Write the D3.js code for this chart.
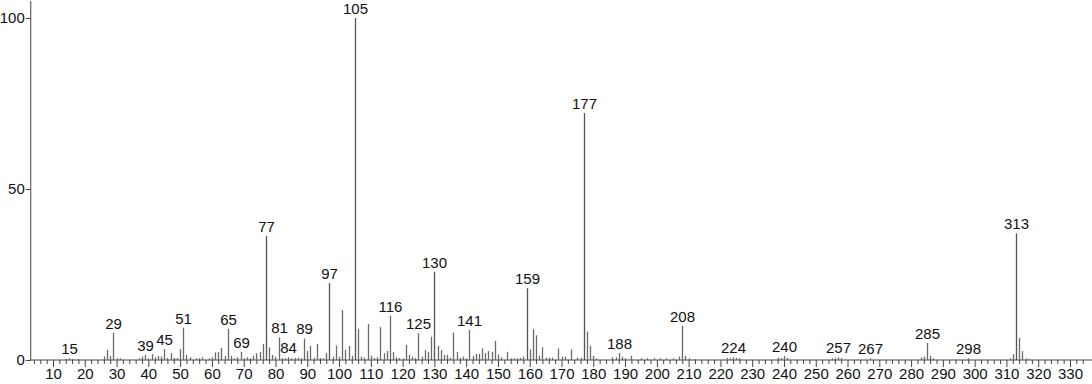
<!DOCTYPE html>
<html><head><meta charset="utf-8">
<script src="https://cdn.jsdelivr.net/npm/d3@7"></script>
<style>body{margin:0;background:#fff}svg{display:block}text{font-family:"Liberation Sans",Arial,sans-serif}</style>
</head><body><svg id="c" width="1092" height="384"></svg>
<script>
const mz = [14,15,16,18,26,27,28,29,30,31,37,38,39,40,41,42,43,44,45,46,47,48,49,50,51,52,53,55,56,57,59,60,61,62,63,64,65,66,67,68,69,70,71,72,73,74,75,76,77,78,79,80,81,82,83,84,85,86,87,88,89,90,91,92,93,94,95,96,97,98,99,100,101,102,103,104,105,106,107,108,109,110,111,112,113,114,115,116,117,118,119,120,121,122,123,124,125,126,127,128,129,130,131,132,133,134,135,136,137,138,139,140,141,142,143,144,145,146,147,148,149,150,151,153,154,155,156,157,158,159,160,161,162,163,164,165,166,167,169,170,171,173,175,176,177,178,179,180,181,186,187,188,189,190,192,195,197,199,201,203,205,207,208,209,210,212,222,223,224,225,226,238,239,240,241,255,256,257,258,267,283,284,285,286,287,298,311,312,313,314,315,316,317];
const intensity = [0.3,0.5,0.3,0.3,1,3,1.2,8,0.5,0.5,0.5,1,1.5,0.5,1.7,0.8,1.2,1,3.2,0.6,2,0.6,0.6,3.2,9.4,1.5,0.8,0.5,0.5,0.8,0.5,0.8,2.2,2.3,3.5,1.2,9.1,1.2,0.5,0.8,2.4,0.5,0.8,0.5,1.2,2,2.4,4.7,36.3,3.7,1.5,1,6.6,0.6,0.5,0.8,0.5,0.6,0.7,0.5,6.3,2.6,4.1,0.7,4.7,0.6,0.5,2,22.5,1,4.2,1,14.6,3,4.1,1.2,100,9,1,0.7,10.5,1.2,0.6,0.8,9.6,2,2.6,13,2.3,0.8,0.6,0.5,4.4,1.5,1,0.6,7.8,1,2.9,2.4,6.8,25.8,4.1,2.9,1.5,1.5,0.7,8,2.4,0.7,1,0.5,8.8,1.2,1.8,1.8,3.4,2,2.6,2.4,5.6,1.6,0.8,2.4,0.5,0.5,0.5,0.6,1,21,3.1,9,7.2,1.2,3.7,0.7,0.7,0.7,3.4,1,1,3.1,0.7,0.7,72.2,8.3,4.2,1.2,0.5,0.8,0.8,2,1,0.5,1.2,0.5,0.5,0.5,0.5,0.5,0.5,1,10,1.2,0.5,0.3,0.6,0.5,0.8,0.6,0.5,0.7,0.6,1.2,0.6,0.5,0.6,0.8,0.5,0.5,0.8,1,5,1.2,0.5,0.5,0.5,1.7,37,6.5,2.6,0.5,0.3];
const labeled = [15,29,39,45,51,65,69,77,81,84,89,97,105,116,125,130,141,159,177,188,208,224,240,257,267,285,298,313];
const xTicks = d3.range(10, 331, 10);
const xMinor = d3.range(4, 336, 2);
const yTicks = [0, 50, 100];

const svg = d3.select("#c");
const x = d3.scaleLinear().domain([10, 330]).range([53, 1070]);
const y = d3.scaleLinear().domain([0, 100]).range([360, 18]);
const x0 = x(3), x1 = x(337);
const FS = 15;

// minor ticks
svg.append("g").attr("transform","translate(0,360)")
  .call(d3.axisBottom(x).tickValues(xMinor.filter(v=>v%10!==0)).tickSize(4).tickFormat(""))
  .call(g=>{g.select(".domain").remove();g.selectAll("line").attr("stroke","#444");});
// major ticks
svg.append("g").attr("transform","translate(0,360)")
  .call(d3.axisBottom(x).tickValues(xTicks).tickSize(7).tickPadding(1).tickFormat(d3.format("d")))
  .call(g=>{g.select(".domain").remove();g.selectAll("line").attr("stroke","#444");
    g.selectAll("text").attr("font-size",FS).attr("fill","#111").attr("font-family","Liberation Sans, Arial, sans-serif");});
svg.append("line").attr("x1",x0).attr("x2",x1).attr("y1",360).attr("y2",360).attr("stroke","#444");

// y axis
svg.append("g").attr("transform",`translate(${x0},0)`)
  .call(d3.axisLeft(y).tickValues(yTicks).tickSize(5).tickPadding(1).tickFormat(d3.format("d")))
  .call(g=>{g.select(".domain").remove();g.selectAll("line").attr("stroke","#444");
    g.selectAll("text").attr("font-size",FS).attr("fill","#111").attr("font-family","Liberation Sans, Arial, sans-serif");});
svg.append("line").attr("x1",x0).attr("x2",x0).attr("y1",360).attr("y2",y(105)).attr("stroke","#444");

const data = mz.map((m,i)=>({m, v:intensity[i]}));
svg.append("g").selectAll("line").data(data).join("line")
  .attr("x1",d=>Math.round(x(d.m))+0.5).attr("x2",d=>Math.round(x(d.m))+0.5)
  .attr("y1",360).attr("y2",d=>y(d.v))
  .attr("stroke",d=>d.v>20?"#555":"#6a6a6a").attr("stroke-width",1.3);

svg.append("g").selectAll("text").data(data.filter(d=>labeled.includes(d.m))).join("text")
  .attr("x",d=>Math.round(x(d.m))+0.5).attr("y",d=>y(d.v)-4)
  .attr("text-anchor","middle").attr("font-size",FS).attr("fill","#111")
  .text(d=>d.m);
</script></body></html>
